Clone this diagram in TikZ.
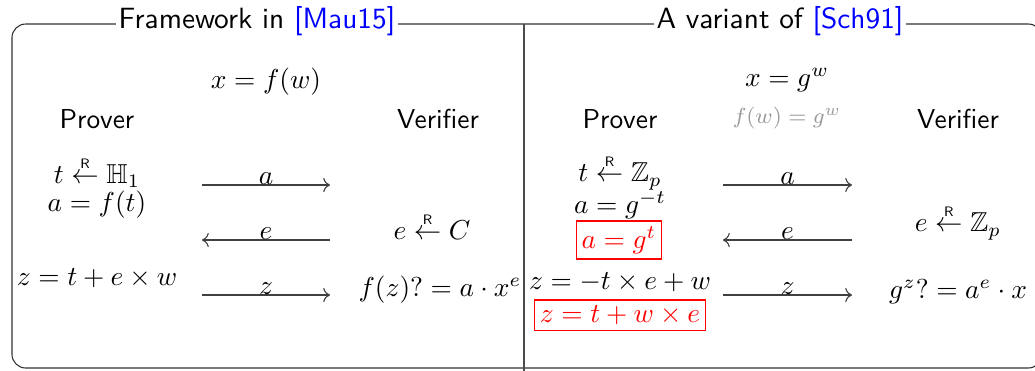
\documentclass[tikz,border=0pt]{standalone}
\usepackage{amsmath,amssymb}
\usepackage{tikz}
\usetikzlibrary{arrows.meta,positioning}
\usepackage{xcolor}

\newcommand{\rsample}{\mathrel{\overset{\scriptscriptstyle\mathsf{R}}{\leftarrow}}}

\begin{document}
\begin{tikzpicture}[
    x=0.365pt, y=-0.365pt,
    party/.style={font=\sffamily},
    heading/.style={fill=white, inner sep=1pt, font=\sffamily\fontsize{10.7}{13}\selectfont},
    msg/.style={->, black!75},
    lbl/.style={midway, above, inner sep=0pt, text=black},
    fixbox/.style={draw=red, text=red, inner sep=2pt},
    >=To
]
    \clip (0,0) rectangle (1035,370);

    % Frame
    \draw[rounded corners=5pt, black!80] (12,24) rectangle (1042,368);
    \draw[black!70] (524,24) -- (524,372);

    % Titles
    \node[heading] (tl) at (257,21) {Framework in \textcolor{blue}{[Mau15]}};
    \node[heading] (tr) at (780,21) {A variant of \textcolor{blue}{[Sch91]}};

    % Left: framework
    \node (lx) at (266,82) {$x=f(w)$};
    \node[party] (lp) at (97,119) {Prover};
    \node[party] (lv) at (438,119) {Verifier};
    \node (lt) at (97,172) {$t\rsample\mathbb{H}_1$};
    \node (la) at (97,205) {$a=f(t)$};
    \node (le) at (432,226) {$e\rsample C$};
    \node (lz) at (97,278) {$z=t+e\times w$};
    \node (lc) at (440,290) {$f(z)?=a\cdot x^e$};

    \coordinate (la1) at (202,185);
    \coordinate (la2) at (330,185);
    \coordinate (le1) at (330,240);
    \coordinate (le2) at (202,240);
    \coordinate (lz1) at (202,295);
    \coordinate (lz2) at (330,295);
    \draw[msg] (la1) -- (la2) node[lbl] {$a$};
    \draw[msg] (le1) -- (le2) node[lbl] {$e$};
    \draw[msg] (lz1) -- (lz2) node[lbl] {$z$};

    % Right: variant
    \node (rx) at (787,80) {$x=g^w$};
    \node[text=black!40, font=\footnotesize] (rf) at (787,118) {$f(w)=g^w$};
    \node[party] (rp) at (620,119) {Prover};
    \node[party] (rv) at (958,119) {Verifier};
    \node (rt) at (620,172) {$t\rsample\mathbb{Z}_p$};
    \node (ra) at (620,205) {$a=g^{-t}$};
    \node[fixbox] (rab) at (619,240) {$a=g^t$};
    \node (re) at (958,222) {$e\rsample\mathbb{Z}_p$};
    \node (rz) at (620,282) {$z=-t\times e+w$};
    \node[fixbox] (rzb) at (620,315) {$z=t+w\times e$};
    \node (rc) at (958,292) {$g^z?=a^e\cdot x$};

    \coordinate (ra1) at (723,185);
    \coordinate (ra2) at (852,185);
    \coordinate (re1) at (852,240);
    \coordinate (re2) at (723,240);
    \coordinate (rz1) at (723,295);
    \coordinate (rz2) at (852,295);
    \draw[msg] (ra1) -- (ra2) node[lbl] {$a$};
    \draw[msg] (re1) -- (re2) node[lbl] {$e$};
    \draw[msg] (rz1) -- (rz2) node[lbl] {$z$};
\end{tikzpicture}
\end{document}
